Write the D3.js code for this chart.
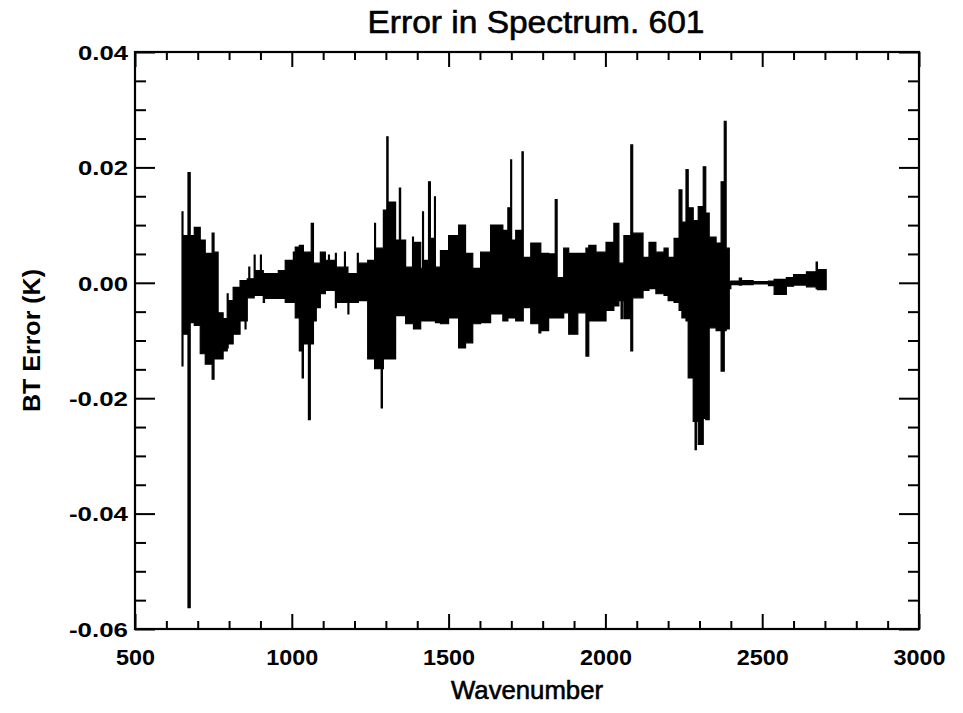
<!DOCTYPE html>
<html><head><meta charset="utf-8">
<script src="https://cdn.jsdelivr.net/npm/d3@7"></script>
<style>body{margin:0;background:#fff}svg{display:block}</style>
</head><body><svg id="c" width="963" height="713"></svg>
<script>
// Envelope of the BT error spectrum: segment start wavenumber, min and max error (K)
const wavenumber = [650,653,669,676,689,708,724,746,752,765,781,794,797,813,835,851,854,858,863,866,880,883,900,903,909,913,957,979,1005,1008,1011,1024,1027,1033,1037,1053,1059,1062,1069,1078,1091,1107,1117,1120,1139,1142,1168,1171,1179,1182,1209,1212,1219,1242,1264,1267,1285,1289,1292,1303,1307,1331,1343,1347,1363,1385,1388,1411,1417,1420,1436,1442,1455,1458,1474,1500,1532,1554,1577,1602,1634,1673,1689,1698,1701,1714,1734,1738,1762,1788,1794,1819,1840,1846,1867,1883,1912,1938,1947,1970,2002,2027,2043,2050,2054,2059,2081,2087,2120,2139,2161,2187,2200,2219,2235,2244,2257,2264,2280,2286,2290,2296,2312,2320,2331,2353,2369,2379,2385,2395,2400,2427,2434,2471,2520,2538,2577,2600,2641,2672,2676,2704];
const errLow = [-0.0144,-0.0089,-0.0563,-0.0069,-0.0074,-0.0123,-0.0141,-0.0167,-0.0132,-0.0132,-0.0118,-0.0113,-0.0106,-0.0089,-0.0066,-0.0080,-0.0066,-0.0026,-0.0026,-0.0026,-0.0022,-0.0022,-0.0022,-0.0022,-0.0034,-0.0027,-0.0027,-0.0034,-0.0034,-0.0034,-0.0061,-0.0118,-0.0118,-0.0165,-0.0106,-0.0237,-0.0106,-0.0106,-0.0066,-0.0043,-0.0019,-0.0013,-0.0013,-0.0013,-0.0043,-0.0034,-0.0034,-0.0034,-0.0054,-0.0034,-0.0034,-0.0031,-0.0031,-0.0132,-0.0149,-0.0149,-0.0217,-0.0149,-0.0132,-0.0132,-0.0132,-0.0057,-0.0057,-0.0057,-0.0071,-0.0071,-0.0080,-0.0066,-0.0066,-0.0066,-0.0066,-0.0066,-0.0066,-0.0069,-0.0071,-0.0061,-0.0113,-0.0104,-0.0071,-0.0069,-0.0054,-0.0066,-0.0061,-0.0061,-0.0061,-0.0066,-0.0066,-0.0043,-0.0071,-0.0087,-0.0083,-0.0061,-0.0061,-0.0061,-0.0052,-0.0089,-0.0052,-0.0127,-0.0066,-0.0066,-0.0048,-0.0040,-0.0031,-0.0062,-0.0031,-0.0062,-0.0118,-0.0026,-0.0013,-0.0010,-0.0019,-0.0022,-0.0031,-0.0034,-0.0048,-0.0061,-0.0066,-0.0165,-0.0240,-0.0289,-0.0240,-0.0280,-0.0235,-0.0237,-0.0078,-0.0083,-0.0153,-0.0083,-0.0080,-0.0010,-0.0003,-0.0004,-0.0003,-0.0002,-0.0005,-0.0020,-0.0006,-0.0004,-0.0007,-0.0010,-0.0012,-0.0012];
const errHigh = [0.0123,0.0082,0.0191,0.0082,0.0096,0.0074,0.0051,0.0086,0.0053,-0.0052,-0.0062,-0.0019,-0.0031,-0.0008,0.0004,0.0000,0.0004,0.0007,0.0027,0.0007,0.0048,0.0021,0.0048,0.0021,0.0016,0.0016,0.0021,0.0039,0.0053,0.0039,0.0062,0.0065,0.0065,0.0065,0.0053,0.0053,0.0050,0.0103,0.0034,0.0034,0.0053,0.0039,0.0048,0.0039,0.0051,0.0027,0.0053,0.0027,0.0016,0.0016,0.0051,0.0034,0.0034,0.0039,0.0103,0.0060,0.0060,0.0060,0.0126,0.0253,0.0140,0.0074,0.0164,0.0074,0.0027,0.0079,0.0070,0.0025,0.0123,0.0039,0.0175,0.0077,0.0149,0.0027,0.0056,0.0082,0.0100,0.0051,0.0025,0.0053,0.0100,0.0091,0.0130,0.0213,0.0074,0.0091,0.0227,0.0044,0.0069,0.0069,0.0051,0.0050,0.0144,0.0009,0.0060,0.0051,0.0051,0.0060,0.0065,0.0053,0.0070,0.0103,0.0034,0.0034,0.0034,0.0082,0.0239,0.0086,0.0044,0.0070,0.0053,0.0060,0.0044,0.0077,0.0161,0.0105,0.0196,0.0130,0.0108,0.0108,0.0108,0.0132,0.0201,0.0121,0.0079,0.0069,0.0175,0.0280,0.0060,0.0002,0.0003,0.0008,0.0004,0.0002,0.0003,0.0006,0.0009,0.0014,0.0019,0.0036,0.0023,0.0023];

const xTickValues = [500,1000,1500,2000,2500,3000];
const xTickLabels = ["500","1000","1500","2000","2500","3000"];
const yTickValues = [-0.06,-0.04,-0.02,0.00,0.02,0.04];
const yTickLabels = ["-0.06","-0.04","-0.02","0.00","0.02","0.04"];
const xMinorStep = 100;
const yMinorStep = 0.005;
const titleText = "Error in Spectrum. 601";
const xTitle = "Wavenumber";
const yTitle = "BT Error (K)";

const svg = d3.select("#c");
const L = 135, R = 919, T = 52, B = 629;
const x = d3.scaleLinear().domain([500, 3000]).range([L, R]);
const y = d3.scaleLinear().domain([-0.06, 0.04]).range([B, T]);

const data = wavenumber.map((w, i) => ({w, lo: errLow[i], hi: errHigh[i]}));

// data envelope
const area = d3.area()
  .x(d => x(d.w)).y0(d => y(d.lo)).y1(d => y(d.hi))
  .curve(d3.curveStepAfter);
svg.append("path").datum(data).attr("d", area)
  .attr("fill", "#000").attr("stroke", "#000").attr("stroke-width", 1.2);

// ticks
const xMinor = d3.range(500, 3000 + 1, xMinorStep).filter(v => v % 500 !== 0);
const yMinor = d3.range(-0.06, 0.04 + 1e-9, yMinorStep).map(v => +v.toFixed(3)).filter(v => Math.abs(Math.round(v / 0.02) * 0.02 - v) > 1e-6);

function tickAxis(gen, tx, ty, vals, size) {
  const g = svg.append("g").attr("transform", `translate(${tx},${ty})`)
    .call(gen.tickValues(vals).tickSize(size).tickFormat("").tickSizeOuter(0));
  g.select(".domain").remove();
  g.selectAll("line").attr("stroke", "#000").attr("stroke-width", 2);
  return g;
}
tickAxis(d3.axisBottom(x), 0, B, xTickValues, -15);
tickAxis(d3.axisBottom(x), 0, B, xMinor, -8);
tickAxis(d3.axisTop(x), 0, T, xTickValues, -15);
tickAxis(d3.axisTop(x), 0, T, xMinor, -8);
tickAxis(d3.axisLeft(y), L, 0, yTickValues, -20);
tickAxis(d3.axisLeft(y), L, 0, yMinor, -11);
tickAxis(d3.axisRight(y), R, 0, yTickValues, -20);
tickAxis(d3.axisRight(y), R, 0, yMinor, -11);

// frame
svg.append("rect").attr("x", L).attr("y", T).attr("width", R - L).attr("height", B - T)
  .attr("fill", "none").attr("stroke", "#000").attr("stroke-width", 2.2);

const font = "'Liberation Sans', Arial, sans-serif";

// x tick labels
const gx = svg.append("g").attr("transform", `translate(0,${B})`)
  .call(d3.axisBottom(x).tickValues(xTickValues).tickSize(0).tickPadding(0)
    .tickFormat((d, i) => xTickLabels[i]));
gx.select(".domain").remove();
gx.selectAll("text").attr("y", 36).attr("dy", null)
  .attr("font-family", font).attr("font-size", 22).attr("font-weight", "bold").attr("fill", "#000")
  .attr("textLength", (d, i) => xTickLabels[i].length * 13)
  .attr("lengthAdjust", "spacingAndGlyphs");

// y tick labels
const gy = svg.append("g").attr("transform", `translate(${L},0)`)
  .call(d3.axisLeft(y).tickValues(yTickValues).tickSize(0).tickPadding(0)
    .tickFormat((d, i) => yTickLabels[i]));
gy.select(".domain").remove();
gy.selectAll("text").attr("x", -7).attr("dy", "0.35em")
  .attr("font-family", font).attr("font-size", 21).attr("font-weight", "bold").attr("fill", "#000")
  .attr("textLength", (d, i) => yTickLabels[i].startsWith("-") ? 59 : 50)
  .attr("lengthAdjust", "spacingAndGlyphs");

// titles
svg.append("text").attr("x", 536).attr("y", 33).attr("text-anchor", "middle")
  .attr("font-family", font).attr("font-size", 31).attr("fill", "#000")
  .attr("stroke", "#000").attr("stroke-width", 0.6)
  .attr("textLength", 337).attr("lengthAdjust", "spacingAndGlyphs").text(titleText);
svg.append("text").attr("x", (L + R) / 2).attr("y", 699).attr("text-anchor", "middle")
  .attr("font-family", font).attr("font-size", 26).attr("fill", "#000")
  .attr("stroke", "#000").attr("stroke-width", 0.6)
  .attr("textLength", 152).attr("lengthAdjust", "spacingAndGlyphs").text(xTitle);
svg.append("text").attr("transform", `translate(40,${(T + B) / 2}) rotate(-90)`).attr("text-anchor", "middle")
  .attr("font-family", font).attr("font-size", 23).attr("font-weight", "bold").attr("fill", "#000")
  .attr("textLength", 143).attr("lengthAdjust", "spacingAndGlyphs").text(yTitle);
</script></body></html>
